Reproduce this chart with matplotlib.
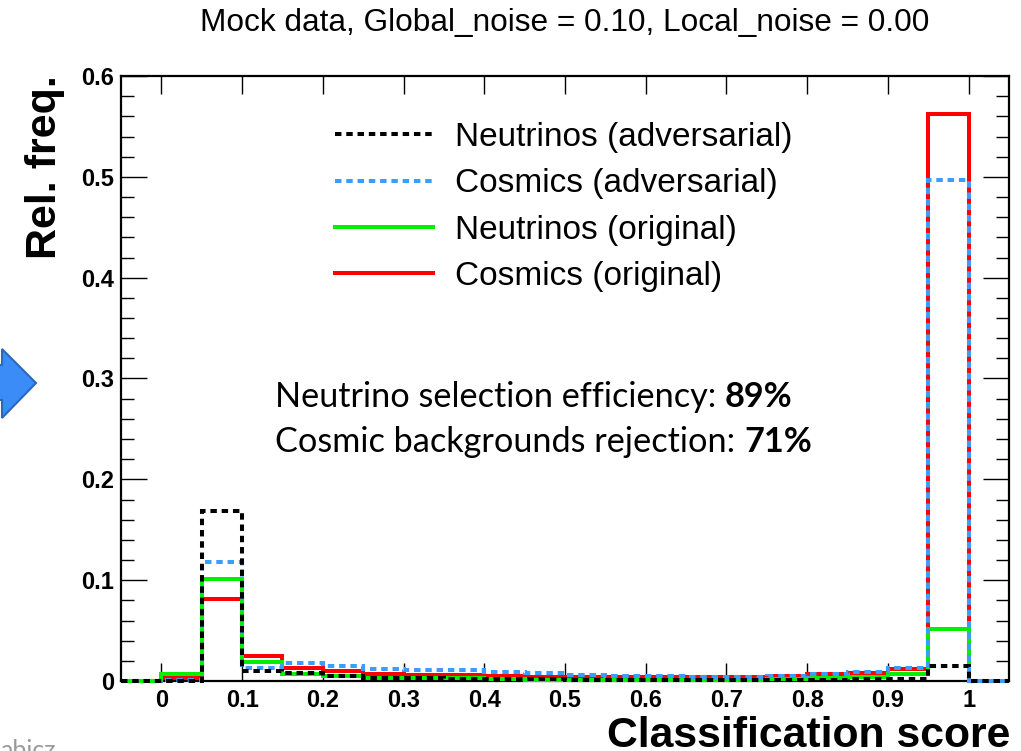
import numpy as np
import matplotlib
matplotlib.use("Agg")
import matplotlib.pyplot as plt
from matplotlib.patches import Polygon
from matplotlib.ticker import MultipleLocator, FuncFormatter

# bin edges of the classification score histogram
edges = np.linspace(-0.05, 1.05, 23)

# relative frequency per bin
nu_adv = [0, 0.0, 0.169, 0.0096, 0.0083, 0.005, 0.0034, 0.0026, 0.0024, 0.002, 0.0015,
          0.0013, 0.0013, 0.001, 0.001, 0.001, 0.0008, 0.001, 0.002, 0.0017, 0.0149, 0]
cos_adv = [0, 0.0005, 0.118, 0.013, 0.0176, 0.0145, 0.0117, 0.011, 0.011, 0.0093, 0.0076,
           0.0063, 0.005, 0.005, 0.0044, 0.0044, 0.005, 0.007, 0.0085, 0.0125, 0.497, 0]
nu_orig = [0, 0.0066, 0.101, 0.019, 0.0073, 0.0045, 0.003, 0.0028, 0.0025, 0.0015, 0.0012,
           0.001, 0.001, 0.001, 0.001, 0.001, 0.0017, 0.0034, 0.0044, 0.0067, 0.0513, 0]
cos_orig = [0, 0.003, 0.081, 0.025, 0.013, 0.010, 0.0073, 0.006, 0.0055, 0.0047, 0.0042,
            0.004, 0.004, 0.004, 0.0039, 0.0038, 0.005, 0.007, 0.0083, 0.0123, 0.562, 0]

labels = ["Neutrinos (adversarial)", "Cosmics (adversarial)",
          "Neutrinos (original)", "Cosmics (original)"]

helv = ["Liberation Sans", "DejaVu Sans"]

W, H = 1021, 751
fig = plt.figure(figsize=(W / 100, H / 100), dpi=100)
ax = fig.add_axes([121 / W, 1 - 681 / H, 888 / W, 605 / H])

lw = 2.9
dots = (0, (1.6, 1.2))
h_red = ax.stairs(cos_orig, edges, color="#ff0000", lw=lw, zorder=3, clip_on=False)
h_green = ax.stairs(nu_orig, edges, color="#00f000", lw=lw, zorder=4, clip_on=False)
h_blue = ax.stairs(cos_adv, edges, color="#3d9cff", lw=lw, ls=dots, zorder=5, clip_on=False)
h_black = ax.stairs(nu_adv, edges, color="black", lw=lw, ls=dots, zorder=6, clip_on=False)

ax.set_xlim(-0.05, 1.05)
ax.set_ylim(0, 0.6)
ax.xaxis.set_major_locator(MultipleLocator(0.1))
ax.yaxis.set_major_locator(MultipleLocator(0.1))
ax.yaxis.set_minor_locator(MultipleLocator(0.02))
fmt = FuncFormatter(lambda v, p: "%g" % round(v, 2))
ax.xaxis.set_major_formatter(fmt)
ax.yaxis.set_major_formatter(fmt)

for s in ax.spines.values():
    s.set_linewidth(1.6)
ax.tick_params(which="both", direction="in", top=True, right=True, width=1.0)
ax.tick_params(axis="x", which="major", length=13, pad=6)
ax.tick_params(axis="y", which="major", length=19, pad=5)
ax.tick_params(axis="y", which="minor", length=9.5)
for t in ax.get_xticklabels() + ax.get_yticklabels():
    t.set_family(helv)
    t.set_fontweight("bold")
    t.set_fontsize(17)

leg = ax.legend([h_black, h_blue, h_green, h_red], labels, loc="upper left",
                bbox_to_anchor=(0.241, 0.924), frameon=False, borderpad=0,
                borderaxespad=0, handlelength=2.94, handletextpad=0.66,
                labelspacing=0.46, prop={"family": helv, "size": 24})

# efficiency summary, positions in pixels from the top left
t1 = ax.text(275, H - 397, "Neutrino selection efficiency: ", transform=None,
             family="Lato", fontsize=24.7, va="center")
t2 = ax.text(275, H - 442, "Cosmic backgrounds rejection: ", transform=None,
             family="Lato", fontsize=24.7, va="center")
ax.annotate("89%", xy=(1, 0), xycoords=t1, va="bottom", ha="left",
            family="Lato", fontsize=24.7, fontweight="bold")
ax.annotate("71%", xy=(1, 0), xycoords=t2, va="bottom", ha="left",
            family="Lato", fontsize=24.7, fontweight="bold")

fig.text(565 / W, 1 - 23 / H, "Mock data, Global_noise = 0.10, Local_noise = 0.00",
         ha="center", va="center", family=helv, fontsize=22.8)
fig.text(45 / W, 1 - 75 / H, "Rel. freq.", rotation=90, ha="center", va="top",
         family=helv, fontweight="bold", fontsize=31)
fig.text(1010 / W, 1 - 747 / H, "Classification score", ha="right", va="baseline",
         family=helv, fontweight="bold", fontsize=30.8)

# slide leftovers at the left edge
arrow = [(-10, 365), (2, 365), (2, 349), (36, 383), (2, 418), (2, 400), (-10, 400)]
fig.patches.append(Polygon([(x / W, 1 - y / H) for x, y in arrow], closed=True,
                           transform=fig.transFigure, facecolor="#3b8cf6",
                           edgecolor="#2a68c0", lw=1.5))
fig.text(56 / W, 1 - 758 / H, "abicz", ha="right", va="baseline",
         family="Lato", fontsize=18, color="#9a9a9a")

fig.savefig("out.png", dpi=100)
